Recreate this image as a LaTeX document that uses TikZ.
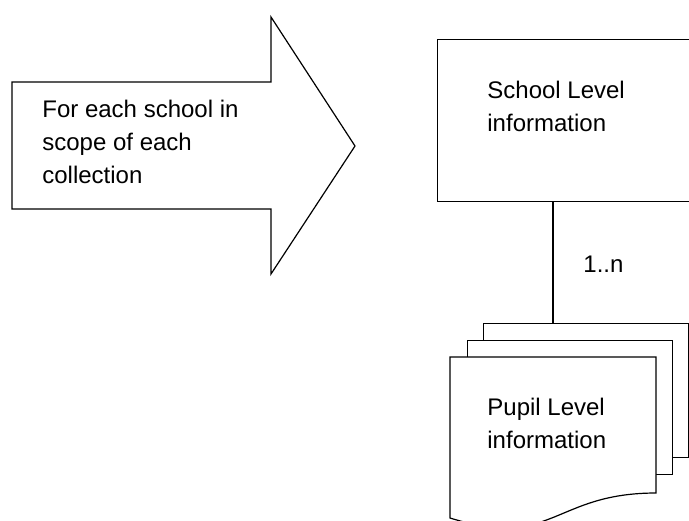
\documentclass[tikz,border=0pt]{standalone}
\usepackage{fontspec}
\setmainfont{Liberation Sans}
\usetikzlibrary{positioning}

\tikzset{
  outline/.style={draw, line width=0.6pt, fill=white},
  pagebox/.style={outline, anchor=north west, minimum width=102.5pt, minimum height=67pt, inner sep=0pt},
  lbl/.style={font=\fontsize{12}{16.5}\selectfont, align=left, inner sep=0pt, anchor=north west},
}

\begin{document}
\begin{tikzpicture}[x=0.5pt,y=-0.5pt]

    \useasboundingbox (0,0) rectangle (689,520);
    \clip (0,0) rectangle (689,520);

    % block arrow
    \draw[outline] (12,82) -- (271,82) -- (271,17) -- (355,146)
        -- (271,274) -- (271,209) -- (12,209) -- cycle;
    \node[lbl] (scope) at (42,100) {For each school in\\scope of each\\collection};

    % school level
    \node[outline, anchor=north west, minimum width=150pt, minimum height=81pt] (school) at (437,39) {};
    \node[lbl] (schooltxt) at (487,81) {School Level\\information};

    % pupil level (stack of pages)
    \node[pagebox] (page3) at (483,323) {};
    \node[pagebox] (page2) at ([shift={(-16,17)}]page3.north west) {};
    \coordinate (page1) at ([shift={(-17,17)}]page2.north west);
    \draw[outline] (page1) -- ++(206,0) -- ++(0,136)
        .. controls (553,493) and (553,550) .. (450,518) -- cycle;
    \node[lbl] (pupiltxt) at (487,398) {Pupil Level\\information};

    % link
    \draw[line width=0.6pt] ([xshift=58pt]school.south west) coordinate (link)
        -- (link |- page3.north);
    \node[lbl] (mult) at (583,256) {1..n};

\end{tikzpicture}
\end{document}
